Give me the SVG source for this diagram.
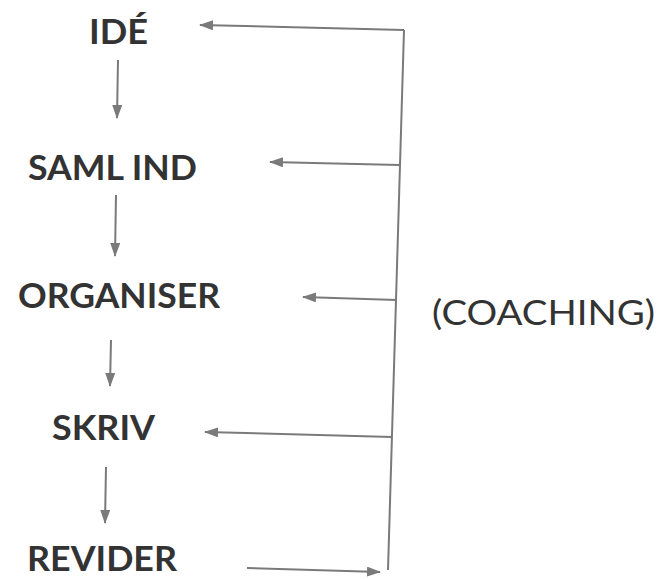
<svg xmlns="http://www.w3.org/2000/svg" width="659" height="579" viewBox="0 0 659 579">
<style>
.t{font-family:Lato,"Noto Sans",sans-serif;font-weight:bold;font-size:34px;fill:#333}
.c{font-family:Lato,"Noto Sans",sans-serif;font-size:34px;fill:#333}
.l{stroke:#7a7a7a;stroke-width:2;fill:none}
</style>
<defs>
<marker id="ah" viewBox="0 0 14 10" refX="13" refY="5" markerWidth="14" markerHeight="10" markerUnits="userSpaceOnUse" orient="auto">
<path d="M0,0 L14,5 L0,10 Z" fill="#7a7a7a"/>
</marker>
</defs>
<rect width="659" height="579" fill="#fff"/>
<g id="n-ide"><text class="t" x="89" y="44" textLength="59" lengthAdjust="spacingAndGlyphs">IDÉ</text></g>
<g id="n-saml"><text class="t" x="28" y="180" textLength="169" lengthAdjust="spacingAndGlyphs">SAML IND</text></g>
<g id="n-org"><text class="t" x="18" y="308" textLength="202" lengthAdjust="spacingAndGlyphs">ORGANISER</text></g>
<g id="n-skriv"><text class="t" x="52" y="440" textLength="103" lengthAdjust="spacingAndGlyphs">SKRIV</text></g>
<g id="n-rev"><text class="t" x="27" y="571" textLength="150" lengthAdjust="spacingAndGlyphs">REVIDER</text></g>
<g id="n-coach"><text class="c" x="432" y="325" textLength="223" lengthAdjust="spacingAndGlyphs">(COACHING)</text></g>
<g id="connectors">
<path class="l" marker-end="url(#ah)" d="M118,60 L117,118"/>
<path class="l" marker-end="url(#ah)" d="M116,195 L115,256"/>
<path class="l" marker-end="url(#ah)" d="M111,340 L110,386"/>
<path class="l" marker-end="url(#ah)" d="M106,467 L105,523"/>
<path class="l" d="M404,30 L388,570"/>
<path class="l" marker-end="url(#ah)" d="M404,30 L200,25"/>
<path class="l" marker-end="url(#ah)" d="M400,165 L270,162"/>
<path class="l" marker-end="url(#ah)" d="M397,300 L303,297"/>
<path class="l" marker-end="url(#ah)" d="M392,437 L205,432"/>
<path class="l" marker-end="url(#ah)" d="M247,568 L380,572"/>
</g>
</svg>
